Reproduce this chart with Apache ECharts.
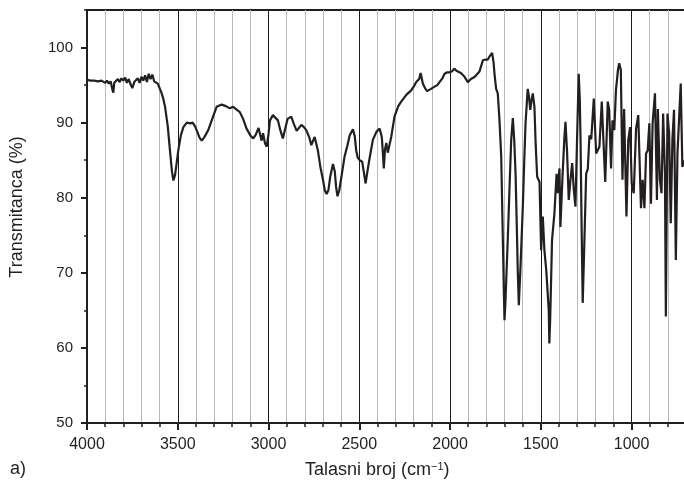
<!DOCTYPE html>
<html>
<head>
<meta charset="utf-8">
<script src="https://cdn.jsdelivr.net/npm/echarts@6/dist/echarts.min.js"></script>
<style>
  html, body { margin: 0; padding: 0; background: #fff; }
  #chart { width: 684px; height: 484px; }
</style>
</head>
<body>
<div id="chart"></div>
<script>
// IR spectrum
var wavenumber = [
  4000, 3980, 3960, 3940, 3920, 3900, 3890, 3880, 3870, 3860, 3855, 3850, 3840, 3830, 3820, 3810,
  3800, 3790, 3780, 3770, 3760, 3750, 3745, 3740, 3730, 3720, 3710, 3700, 3690, 3680, 3670, 3660,
  3650, 3640, 3630, 3620, 3610, 3600, 3590, 3580, 3570, 3555, 3543, 3532, 3524, 3515, 3505, 3497,
  3483, 3469, 3450, 3430, 3418, 3405, 3396, 3380, 3368, 3355, 3332, 3310, 3286, 3258, 3235, 3213,
  3195, 3185, 3158, 3140, 3121, 3100, 3084, 3070, 3055, 3047, 3038, 3030, 3020, 3010, 3000, 2992,
  2976, 2965, 2948, 2935, 2921, 2910, 2895, 2875, 2860, 2845, 2838, 2819, 2805, 2792, 2775, 2764,
  2746, 2728, 2715, 2700, 2690, 2680, 2670, 2660, 2645, 2635, 2628, 2620, 2610, 2595, 2581, 2565,
  2553, 2535, 2525, 2517, 2508, 2498, 2484, 2475, 2465, 2455, 2443, 2425, 2405, 2388, 2376, 2370,
  2365, 2358, 2351, 2343, 2324, 2306, 2285, 2269, 2241, 2214, 2195, 2186, 2170, 2162, 2155, 2150,
  2138, 2126, 2105, 2085, 2070, 2058, 2042, 2030, 2015, 2003, 1990, 1975, 1965, 1957, 1940, 1920,
  1902, 1885, 1870, 1856, 1838, 1819, 1805, 1792, 1780, 1768, 1760, 1755, 1746, 1737, 1728, 1718,
  1709, 1703, 1700, 1695, 1688, 1682, 1672, 1663, 1654, 1646, 1639, 1632, 1627, 1621, 1616, 1613,
  1608, 1599, 1591, 1584, 1572, 1565, 1558, 1551, 1544, 1535, 1528, 1520, 1507, 1498, 1489, 1480,
  1470, 1462, 1456, 1453, 1448, 1438, 1425, 1413, 1408, 1397, 1392, 1380, 1370, 1364, 1355, 1346,
  1336, 1327, 1318, 1309, 1300, 1291, 1285, 1281, 1275, 1269, 1260, 1250, 1241, 1232, 1222, 1208,
  1195, 1177, 1164, 1145, 1131, 1123, 1113, 1105, 1095, 1086, 1075, 1068, 1059, 1050, 1041, 1028,
  1018, 1008, 999, 988, 975, 963, 948, 939, 929, 920, 911, 902, 893, 884, 871, 860,
  855, 844, 835, 826, 816, 811, 802, 793, 784, 775, 766, 756, 747, 729, 720, 712
];
var transmittance = [
  95.7, 95.6, 95.6, 95.5, 95.6, 95.3, 95.6, 95.2, 95.5, 94.4, 94.0, 95.3, 95.1, 95.8, 95.4, 95.9,
  95.6, 96.0, 95.3, 95.8, 95.1, 94.6, 94.5, 95.4, 95.5, 95.9, 95.3, 96.1, 95.6, 96.3, 95.4, 96.5,
  95.8, 96.4, 95.5, 95.7, 95.2, 94.6, 94.0, 93.2, 92.1, 89.5, 86.3, 83.5, 82.3, 83.0, 84.8, 86.3,
  88.3, 89.4, 90.0, 89.9, 90.0, 89.5, 89.0, 88.0, 87.6, 88.0, 89.0, 90.5, 92.1, 92.4, 92.2, 91.9,
  92.1, 92.1, 91.4, 90.5, 89.2, 88.3, 87.9, 88.4, 89.3, 89.4, 87.6, 88.6, 87.3, 86.8, 88.5, 90.3,
  91.0, 90.9, 90.3, 89.0, 87.9, 89.0, 90.5, 90.8, 89.8, 88.9, 88.8, 89.7, 89.4, 89.0, 88.0, 87.0,
  88.1, 86.3, 84.2, 82.4, 81.0, 80.5, 81.0, 82.8, 84.5, 83.5, 81.5, 80.2, 81.0, 83.3, 85.5, 87.0,
  88.3, 89.1, 88.2, 86.3, 85.3, 85.0, 84.8, 83.4, 81.9, 83.5, 85.3, 87.7, 88.8, 89.2, 88.1, 86.0,
  83.9, 86.5, 87.3, 86.0, 88.1, 90.8, 92.2, 92.8, 93.7, 94.3, 95.0, 95.4, 95.8, 96.6, 95.8, 95.2,
  94.6, 94.2, 94.5, 94.8, 95.0, 95.4, 95.9, 96.5, 96.7, 96.7, 96.8, 97.2, 96.9, 96.7, 96.6, 96.1,
  95.4, 95.8, 96.0, 96.3, 96.8, 98.3, 98.4, 98.4, 98.9, 99.3, 98.0, 96.5, 94.5, 93.9, 90.5, 85.5,
  74.4, 67.0, 63.7, 66.0, 70.5, 74.4, 81.5, 87.7, 90.6, 87.5, 83.2, 76.0, 70.4, 65.7, 68.5, 70.0,
  70.2, 78.8, 85.0, 89.9, 94.5, 93.5, 91.7, 93.0, 93.9, 92.1, 87.0, 82.8, 82.1, 73.0, 77.5, 73.0,
  70.4, 70.4, 65.0, 60.6, 64.0, 74.4, 77.9, 83.2, 80.6, 83.9, 76.1, 83.0, 88.0, 90.1, 86.0, 79.7,
  82.5, 84.6, 81.0, 78.8, 88.0, 96.5, 93.0, 87.7, 76.0, 66.0, 74.0, 83.2, 83.8, 88.3, 87.8, 93.2,
  85.9, 86.8, 92.8, 82.1, 92.8, 91.7, 83.9, 90.3, 89.0, 94.3, 97.0, 97.9, 97.0, 82.4, 91.8, 77.5,
  87.7, 89.4, 81.9, 80.6, 89.2, 91.0, 78.6, 82.4, 78.6, 85.9, 86.3, 89.9, 79.2, 89.9, 93.9, 79.7,
  91.8, 82.4, 80.6, 91.2, 83.2, 64.2, 91.2, 88.6, 76.6, 87.7, 91.7, 71.7, 85.9, 95.2, 84.1, 85.0
];
var xMajorTicks = [1000, 1500, 2000, 2500, 3000, 3500, 4000];
var yMajorTicks = [50, 60, 70, 80, 90, 100];

var ink = '#231f20';
var font = 'Liberation Sans, Arial, sans-serif';

var points = [];
for (var i = 0; i < wavenumber.length; i++) {
  points.push([wavenumber[i], transmittance[i]]);
}

var myChart = echarts.init(document.getElementById('chart'), null, { renderer: 'canvas' });

var option = {
  animation: false,
  backgroundColor: '#fff',
  grid: {
    left: 87, top: 10, width: 599, height: 413,
    outerBoundsMode: 'none', containLabel: false,
    show: true, borderColor: ink, borderWidth: 2, backgroundColor: 'transparent'
  },
  xAxis: [
    {
      type: 'value', min: 700, max: 4000, interval: 100, inverse: true,
      axisLine: { show: true, onZero: false, lineStyle: { color: ink, width: 2 } },
      axisTick: { show: true, length: 4, lineStyle: { color: ink, width: 1.5 } },
      axisLabel: {
        margin: 14, color: ink, fontSize: 16, fontFamily: font,
        formatter: function (v) { return v % 500 === 0 ? String(v) : ''; }
      },
      splitLine: {
        show: true,
        lineStyle: { width: 1, color: ['#b9b9b9', '#b9b9b9', '#b9b9b9', '#1a1a1a', '#b9b9b9'] }
      }
    },
    {
      type: 'value', min: 700, max: 4000, inverse: true, position: 'bottom', gridIndex: 0,
      axisLine: { show: false, onZero: false },
      axisTick: { show: true, length: 7, customValues: xMajorTicks, lineStyle: { color: ink, width: 2 } },
      axisLabel: { show: false },
      splitLine: { show: false }
    }
  ],
  yAxis: [
    {
      type: 'value', min: 50, max: 105, interval: 5,
      axisLine: { show: true, onZero: false, lineStyle: { color: ink, width: 2 } },
      axisTick: { show: true, length: 3, lineStyle: { color: ink, width: 1.5 } },
      axisLabel: {
        margin: 14, color: ink, fontSize: 15, fontFamily: font,
        formatter: function (v) { return v % 10 === 0 ? String(v) : ''; }
      },
      splitLine: { show: false }
    },
    {
      type: 'value', min: 50, max: 105, position: 'left', offset: 0,
      axisLine: { show: false, onZero: false },
      axisTick: { show: true, length: 6, customValues: yMajorTicks, lineStyle: { color: ink, width: 2 } },
      axisLabel: { show: false },
      splitLine: { show: false }
    }
  ],
  series: [
    {
      type: 'line',
      data: points,
      showSymbol: false,
      smooth: false,
      lineStyle: { color: ink, width: 2.2 },
      z: 5
    }
  ],
  graphic: [
    {
      type: 'text', x: 17, y: 207, rotation: Math.PI / 2,
      style: {
        text: 'Transmitanca (%)', fill: ink, fontSize: 18, fontFamily: font,
        textAlign: 'center', textVerticalAlign: 'middle'
      }
    },
    {
      type: 'text', x: 305, y: 470,
      style: {
        text: '{a|Talasni broj (cm}{s|−1}{a|)}',
        fill: ink, fontFamily: font, textAlign: 'left', textVerticalAlign: 'middle',
        rich: {
          a: { fontSize: 18, fontFamily: font, fill: ink },
          s: { fontSize: 11, fontFamily: font, fill: ink, verticalAlign: 'top' }
        }
      }
    },
    {
      type: 'text', x: 10, y: 469,
      style: {
        text: 'a)', fill: ink, fontSize: 18, fontFamily: font,
        textAlign: 'left', textVerticalAlign: 'middle'
      }
    }
  ]
};

if (option && typeof option === 'object') {
  myChart.setOption(option, true);
}
</script>
</body>
</html>
